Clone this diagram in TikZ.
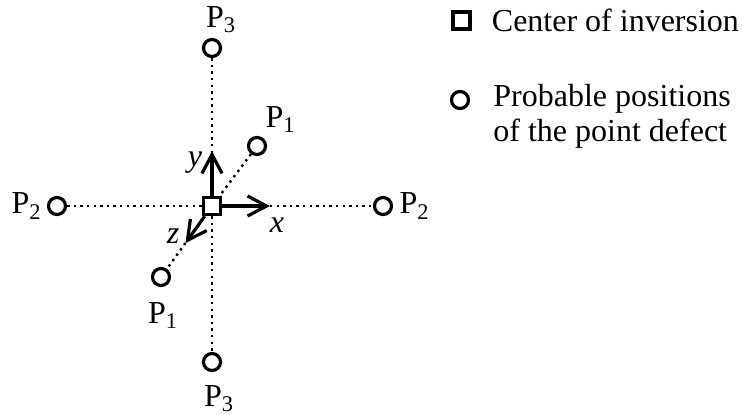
\documentclass[tikz,border=0pt]{standalone}
\usepackage{fontspec}
\setmainfont{Liberation Serif}
\usetikzlibrary{arrows.meta, positioning}

\begin{document}
\begin{tikzpicture}[
  x=0.5pt, y=-0.5pt,
  defect/.style={circle, draw, line width=1.6pt, minimum size=8.5pt, inner sep=0pt},
  centre/.style={rectangle, draw, line width=1.6pt, minimum size=8.5pt, inner sep=0pt, fill=white},
  axis/.style={-{Straight Barb[length=9.5pt, width=10pt]}, line width=1.6pt},
  link/.style={line width=1.2pt, dash pattern=on 1.2pt off 2.1pt},
  plabel/.style={inner sep=0pt, font=\fontsize{16}{18}\selectfont},
  axlabel/.style={inner sep=0pt, font=\fontsize{16}{18}\selectfont\itshape},
  legtext/.style={inner sep=0pt, align=left, font=\fontsize{16}{17.5}\selectfont}
]
\useasboundingbox (0,0) rectangle (742,414);

% Centre and axis tips
\node[centre] (ctr) at (212,206) {};
\coordinate (ytip) at (212,151);
\coordinate (xtip) at (270,206);
\coordinate (ztip) at (185.5,243);

% Probable positions
\node[defect] (p3t) at (212,48) {};
\node[plabel, above=2.5pt of p3t, xshift=4.5pt] {P\textsubscript{3}};

\node[defect] (p3b) at (212,362) {};
\node[plabel, below=6.5pt of p3b, xshift=3.5pt] {P\textsubscript{3}};

\node[defect] (p2l) at (57,206) {};
\node[plabel, left=2.5pt of p2l] {P\textsubscript{2}};

\node[defect] (p2r) at (383,206) {};
\node[plabel, right=3pt of p2r] {P\textsubscript{2}};

\node[defect] (p1u) at (257,146) {};
\node[plabel, above right=3pt and 0.5pt of p1u] {P\textsubscript{1}};

\node[defect] (p1d) at (161,277) {};
\node[plabel, below=7.5pt of p1d, xshift=1pt] {P\textsubscript{1}};

% Dotted links
\draw[link] (p3t) -- (ytip);
\draw[link] (ctr) -- (p3b);
\draw[link] (p2l) -- (ctr);
\draw[link] (xtip) -- (p2r);
\draw[link] (p1u) -- (ctr);
\draw[link] (ztip) -- (p1d);

% Axes
\draw[axis] (ctr) -- (ytip);
\draw[axis] (ctr) -- (xtip);
\draw[axis] (ctr) -- (ztip);
\node[axlabel] (ylab) at (195,163) {y};
\node[axlabel] (xlab) at (277,225) {x};
\node[axlabel] (zlab) at (173,236) {z};

% Legend
\node[centre, line width=2pt] (legsq) at (461,20) {};
\node[legtext, right=10pt of legsq] (legone) {Center of inversion};
\node[defect] (legci) at (460,100) {};
\node[legtext, anchor=north west] (legtwo) at (493,84) {Probable positions\\of the point defect};
\end{tikzpicture}
\end{document}
